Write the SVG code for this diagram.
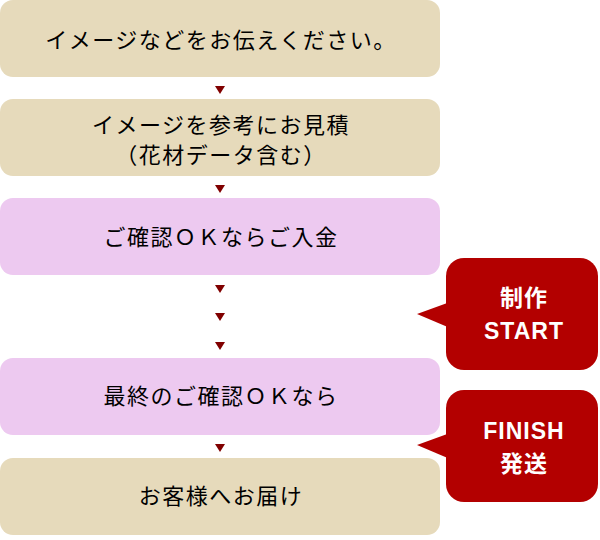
<svg xmlns="http://www.w3.org/2000/svg" width="600" height="540" viewBox="0 0 600 540">
<style>
.beige{fill:#e6dabb}
.pink{fill:#edc9f0}
.red{fill:#b30000}
.t{font-family:"Liberation Sans","Noto Sans CJK JP",sans-serif;font-size:22px;letter-spacing:1.5px;fill:#000;text-anchor:middle}
.w{font-family:"Liberation Sans","Noto Sans CJK JP",sans-serif;font-size:23px;font-weight:bold;letter-spacing:1px;fill:#fff;text-anchor:middle}
.arr{fill:#800000}
</style>
<defs>
<polygon id="tri" points="-5,0 5,0 0,8"/>
</defs>
<g id="step1"><rect class="beige" x="0" y="0" width="440" height="77" rx="13"/><text class="t" x="221" y="48">イメージなどをお伝えください。</text></g>
<g id="step2"><rect class="beige" x="0" y="99" width="440" height="77" rx="13"/><text class="t" x="221" y="133">イメージを参考にお見積</text><text class="t" x="221" y="163">（花材データ含む）</text></g>
<g id="step3"><rect class="pink" x="0" y="198" width="440" height="77" rx="13"/><text class="t" x="221" y="245">ご確認ＯＫならご入金</text></g>
<g id="step4"><rect class="pink" x="0" y="358" width="440" height="77" rx="13"/><text class="t" x="221" y="404">最終のご確認ＯＫなら</text></g>
<g id="step5"><rect class="beige" x="0" y="458" width="440" height="77" rx="13"/><text class="t" x="221" y="504">お客様へお届け</text></g>
<g id="start"><rect class="red" x="446" y="258" width="152" height="112" rx="18"/><polygon class="red" points="450,302 417,314 450,328"/><text class="w" x="524" y="306">制作</text><text class="w" x="524" y="339">START</text></g>
<g id="finish"><rect class="red" x="446" y="390" width="152" height="112" rx="18"/><polygon class="red" points="450,433 417,445 450,459"/><text class="w" x="524" y="439">FINISH</text><text class="w" x="524" y="472">発送</text></g>
<g id="connectors" class="arr">
<use href="#tri" x="220" y="86"/>
<use href="#tri" x="220" y="185"/>
<use href="#tri" x="220" y="285"/>
<use href="#tri" x="220" y="313"/>
<use href="#tri" x="220" y="342"/>
<use href="#tri" x="220" y="444"/>
</g>
</svg>
